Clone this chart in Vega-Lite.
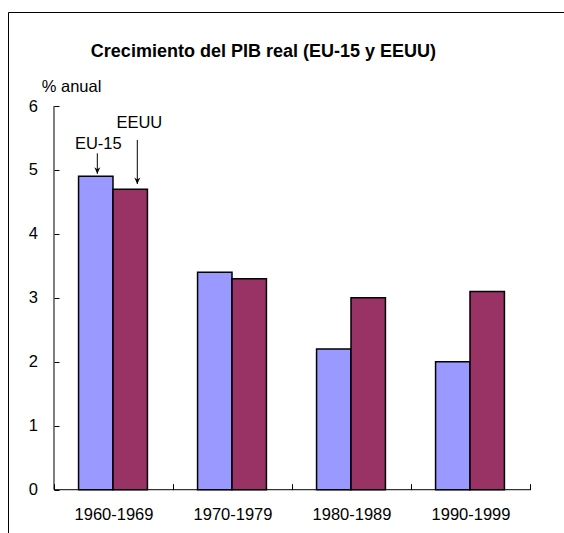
{
  "$schema": "https://vega.github.io/schema/vega-lite/v6.json",
  "width": 556,
  "height": 521,
  "autosize": "none",
  "padding": {"left": 8, "top": 12, "right": 0, "bottom": 0},
  "background": "white",
  "title": {
    "text": "Crecimiento del PIB real (EU-15 y EEUU)",
    "font": "Liberation Sans",
    "fontSize": 18,
    "fontWeight": "bold",
    "color": "black",
    "anchor": "middle",
    "dx": -22.6,
    "offset": -63,
    "baseline": "alphabetic"
  },
  "datasets": {
    "pib": [
      {"periodo": "1960-1969", "serie": "EU-15", "valor": 4.9},
      {"periodo": "1960-1969", "serie": "EEUU", "valor": 4.7},
      {"periodo": "1970-1979", "serie": "EU-15", "valor": 3.4},
      {"periodo": "1970-1979", "serie": "EEUU", "valor": 3.3},
      {"periodo": "1980-1989", "serie": "EU-15", "valor": 2.2},
      {"periodo": "1980-1989", "serie": "EEUU", "valor": 3.0},
      {"periodo": "1990-1999", "serie": "EU-15", "valor": 2.0},
      {"periodo": "1990-1999", "serie": "EEUU", "valor": 3.1}
    ],
    "notas": [
      {"periodo": "1960-1969", "serie": "EU-15", "texto": "EU-15", "y_texto": 5.32, "y_inicio": 5.26, "y_punta": 4.94},
      {"periodo": "1960-1969", "serie": "EEUU", "texto": "EEUU", "y_texto": 5.65, "y_inicio": 5.47, "y_punta": 4.78}
    ]
  },
  "layer": [
    {
      "data": {"name": "pib"},
      "mark": {"type": "bar", "stroke": "black", "strokeWidth": 1.5},
      "encoding": {
        "x": {
          "field": "periodo",
          "type": "nominal",
          "scale": {
            "type": "band",
            "domain": ["1960-1969", "1970-1979", "1980-1989", "1990-1999"],
            "paddingInner": 0,
            "paddingOuter": 0.3361,
            "align": 0.575
          },
          "axis": {
            "orient": "bottom",
            "offset": -43.3,
            "domain": false,
            "tickBand": "extent",
            "tickSize": -6,
            "tickColor": "black",
            "labelPadding": 23,
            "labelAngle": 0,
            "labelFontSize": 16.5,
            "labelFont": "Liberation Sans",
            "labelColor": "black",
            "title": null
          }
        },
        "xOffset": {
          "field": "serie",
          "type": "nominal",
          "scale": {"domain": ["EU-15", "EEUU"], "paddingInner": 0, "paddingOuter": 0.728, "align": 0.49}
        },
        "y": {
          "field": "valor",
          "type": "quantitative",
          "scale": {"domain": [-0.677, 7.47], "nice": false, "zero": false},
          "axis": {
            "values": [0, 1, 2, 3, 4, 5, 6],
            "format": "d",
            "offset": -46,
            "domain": false,
            "grid": false,
            "tickSize": -5,
            "tickColor": "black",
            "labelPadding": 21.5,
            "labelFontSize": 16.5,
            "labelFont": "Liberation Sans",
            "labelColor": "black",
            "title": "% anual",
            "titleAngle": 0,
            "titleAlign": "left",
            "titleBaseline": "alphabetic",
            "titleX": -12.8,
            "titleY": 79,
            "titleFont": "Liberation Sans",
            "titleFontSize": 16.5,
            "titleFontWeight": "normal",
            "titleColor": "black"
          }
        },
        "y2": {"datum": 0},
        "color": {
          "field": "serie",
          "type": "nominal",
          "scale": {"domain": ["EU-15", "EEUU"], "range": ["#9999FF", "#993366"]},
          "legend": null
        }
      }
    },
    {
      "data": {"values": [{}]},
      "mark": {"type": "rule", "color": "black", "strokeWidth": 1},
      "encoding": {
        "x": {"datum": "1960-1969", "type": "nominal", "bandPosition": 0},
        "y": {"datum": 0, "type": "quantitative"},
        "y2": {"datum": 6}
      }
    },
    {
      "data": {"values": [{}]},
      "mark": {"type": "rule", "color": "black", "strokeWidth": 1},
      "encoding": {
        "x": {"datum": "1960-1969", "type": "nominal", "bandPosition": 0},
        "x2": {"datum": "1990-1999", "bandPosition": 1},
        "y": {"datum": 0, "type": "quantitative"}
      }
    },
    {
      "data": {"name": "notas"},
      "transform": [{"filter": "datum.serie === 'EU-15'"}],
      "encoding": {
        "x": {"field": "periodo", "type": "nominal", "bandPosition": 0.364}
      },
      "layer": [
        {
          "mark": {"type": "text", "align": "center", "baseline": "alphabetic", "fontSize": 16.5, "font": "Liberation Sans", "color": "black", "dx": 1},
          "encoding": {
            "y": {"field": "y_texto", "type": "quantitative"},
            "text": {"field": "texto"}
          }
        },
        {
          "mark": {"type": "rule", "color": "black", "strokeWidth": 1},
          "encoding": {
            "y": {"field": "y_inicio", "type": "quantitative"},
            "y2": {"field": "y_punta"}
          }
        },
        {
          "mark": {"type": "point", "shape": "M-1,-2.2L0,0L1,-2.2L0,-1.5Z", "size": 36, "filled": true, "color": "black", "strokeWidth": 0, "opacity": 1},
          "encoding": {
            "y": {"field": "y_punta", "type": "quantitative"}
          }
        }
      ]
    },
    {
      "data": {"name": "notas"},
      "transform": [{"filter": "datum.serie === 'EEUU'"}],
      "encoding": {
        "x": {"field": "periodo", "type": "nominal", "bandPosition": 0.7}
      },
      "layer": [
        {
          "mark": {"type": "text", "align": "center", "baseline": "alphabetic", "fontSize": 16.5, "font": "Liberation Sans", "color": "black", "dx": 2},
          "encoding": {
            "y": {"field": "y_texto", "type": "quantitative"},
            "text": {"field": "texto"}
          }
        },
        {
          "mark": {"type": "rule", "color": "black", "strokeWidth": 1},
          "encoding": {
            "y": {"field": "y_inicio", "type": "quantitative"},
            "y2": {"field": "y_punta"}
          }
        },
        {
          "mark": {"type": "point", "shape": "M-1,-2.2L0,0L1,-2.2L0,-1.5Z", "size": 36, "filled": true, "color": "black", "strokeWidth": 0, "opacity": 1},
          "encoding": {
            "y": {"field": "y_punta", "type": "quantitative"}
          }
        }
      ]
    }
  ],
  "config": {
    "font": "Liberation Sans",
    "view": {"stroke": "black", "strokeWidth": 1, "strokeDash": [556, 1077, 521]},
    "axis": {"grid": false}
  }
}
